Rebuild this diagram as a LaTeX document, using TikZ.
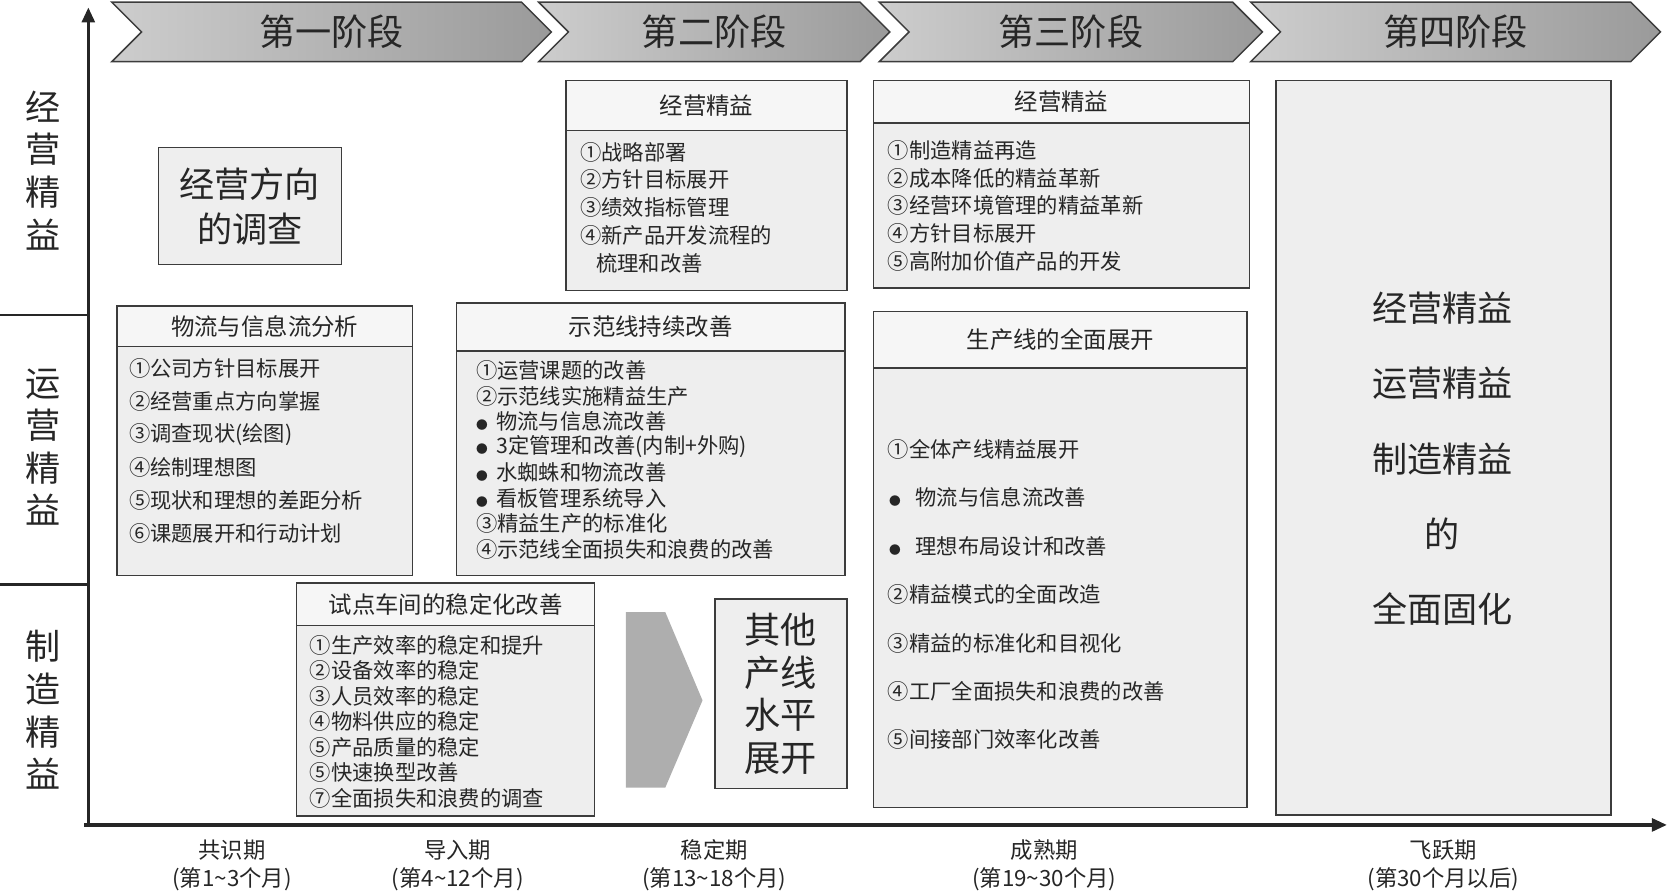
\documentclass[tikz,border=0pt]{standalone}
\usepackage{fontspec}
\setmainfont{Noto Sans CJK SC}
\usepackage{tikz}
\usetikzlibrary{arrows.meta, positioning, calc}
\definecolor{InkDark}{HTML}{262626}
\definecolor{LineDark}{HTML}{3C3C3C}
\definecolor{BoxBg}{HTML}{EEEEEE}
\definecolor{HeadBg}{HTML}{F6F6F6}
\definecolor{PhaseLight}{HTML}{CDCDCD}
\definecolor{PhaseDark}{HTML}{9A9A9A}
\definecolor{ArrowGray}{HTML}{AEAEAE}
\newcommand{\fsz}[2]{\fontsize{#1}{#2}\selectfont}
\newcommand{\bulletmark}{{\fsz{11}{11}●}}
\tikzset{
  >={Triangle[width=12pt,length=14pt]},
  % assi e separatori
  axis/.style={line width=3pt,InkDark},
  sepline/.style={line width=2.4pt,InkDark},
  sidelabel/.style={align=center,font=\fsz{33}{40},text=InkDark},
  % fasi
  phase/.style={draw=LineDark,line width=1.4pt,left color=PhaseLight,right color=PhaseDark},
  phase text/.style={font=\fsz{34}{34},text=InkDark},
  % riquadri
  bodybox/.style={draw=LineDark,line width=1.4pt,fill=BoxBg,anchor=north west,inner sep=0},
  headbox/.style={bodybox,fill=HeadBg,font=\fsz{22}{22},text=InkDark},
  item/.style={anchor=west,inner sep=0,font=\fsz{20}{20},text=InkDark},
  bigtext/.style={align=center,font=\fsz{33}{42},text=InkDark},
  period/.style={align=center,font=\fsz{21}{26},text=InkDark}
}

\begin{document}
\begin{tikzpicture}[x=1pt,y=-1pt]
  \useasboundingbox (0,0) rectangle (1568,838);
  % assi
  \coordinate (origin) at (83,775);
  \coordinate (ytop) at (83,7);
  \coordinate (xleft) at (79,775);
  \coordinate (xright) at (1566,775);
  \draw[axis,->] (origin) -- (ytop);
  \draw[axis,->] (xleft) -- (xright);
  \coordinate (sepA) at (0,296); \coordinate (sepB) at (83,296);
  \coordinate (sepC) at (0,549); \coordinate (sepD) at (83,549);
  \draw[sepline] (sepA) -- (sepB);
  \draw[sepline] (sepC) -- (sepD);
  \node[sidelabel] (side1) at (40,160) {经\\营\\精\\益};
  \node[sidelabel] (side2) at (40,420) {运\\营\\精\\益};
  \node[sidelabel] (side3) at (40,667) {制\\造\\精\\益};
  % fasi
  \foreach \l/\r/\t [count=\i] in {105/518/第一阶段, 506/836/第二阶段, 826/1186/第三阶段, 1175/1560/第四阶段} {
    \draw[phase] (\l,2) -- (\r-28,2) -- (\r,30) -- (\r-28,58) -- (\l,58) -- (\l+28,30) -- cycle;
    \node[phase text] (phase\i) at ({(\l+\r)/2},30) {\t};
  }
  % prima colonna
  \node[bodybox,bigtext,minimum width=172,minimum height=110] (survey) at (148,138) {经营方向\\的调查};
  \node[bodybox,minimum width=278,minimum height=253] (flow) at (109,287) {};
  \node[headbox,minimum width=278,minimum height=38] (flowhead) at (flow.north west) {物流与信息流分析};
  \foreach \t [count=\i] in {①公司方针目标展开, ②经营重点方向掌握, ③调查现状(绘图), ④绘制理想图, ⑤现状和理想的差距分析, ⑥课题展开和行动计划}
    \node[item] (flow-\i) at (121,{346+31*(\i-1)}) {\t};
  \node[bodybox,minimum width=280,minimum height=219] (pilot) at (278,547) {};
  \node[headbox,minimum width=280,minimum height=40] (pilothead) at (pilot.north west) {试点车间的稳定化改善};
  \foreach \t [count=\i] in {①生产效率的稳定和提升, ②设备效率的稳定, ③人员效率的稳定, ④物料供应的稳定, ⑤产品质量的稳定, ⑤快速换型改善, ⑦全面损失和浪费的调查}
    \node[item] (pilot-\i) at (291,{606+24*(\i-1)}) {\t};
  % seconda colonna
  \node[bodybox,minimum width=264,minimum height=197] (mgmt2) at (531,75) {};
  \node[headbox,minimum width=264,minimum height=47] (mgmt2head) at (mgmt2.north west) {经营精益};
  \foreach \t [count=\i] in {①战略部署, ②方针目标展开, ③绩效指标管理, ④新产品开发流程的, \hspace*{15pt}梳理和改善}
    \node[item] (mgmt2-\i) at (545,{143+26*(\i-1)}) {\t};
  \node[bodybox,minimum width=365,minimum height=256] (model) at (428,284) {};
  \node[headbox,minimum width=365,minimum height=45] (modelhead) at (model.north west) {示范线持续改善};
  \foreach \t [count=\i] in {①运营课题的改善, ②示范线实施精益生产, \bulletmark\hspace{8pt}物流与信息流改善, \bulletmark\hspace{8pt}3定管理和改善(内制+外购), \bulletmark\hspace{8pt}水蜘蛛和物流改善, \bulletmark\hspace{8pt}看板管理系统导入, ③精益生产的标准化, ④示范线全面损失和浪费的改善}
    \node[item] (model-\i) at (447,{348+24*(\i-1)}) {\t};
  \path[fill=ArrowGray] (588,575) -- (625,575) -- (660,658) -- (625,740) -- (588,740) -- cycle;
  \node[bodybox,minimum width=124,minimum height=178,align=center,font=\fsz{34}{40},text=InkDark] (others) at (671,562) {其他\\产线\\水平\\展开};
  % terza colonna
  \node[bodybox,minimum width=353,minimum height=195] (mgmt3) at (820,75) {};
  \node[headbox,minimum width=353,minimum height=40] (mgmt3head) at (mgmt3.north west) {经营精益};
  \foreach \t [count=\i] in {①制造精益再造, ②成本降低的精益革新, ③经营环境管理的精益革新, ④方针目标展开, ⑤高附加价值产品的开发}
    \node[item] (mgmt3-\i) at (834,{141+26.2*(\i-1)}) {\t};
  \node[bodybox,minimum width=351,minimum height=466] (spread) at (820,292) {};
  \node[headbox,minimum width=351,minimum height=53] (spreadhead) at (spread.north west) {生产线的全面展开};
  \foreach \t [count=\i] in {①全体产线精益展开, \hspace*{1pt}\bulletmark\hspace{14pt}物流与信息流改善, \hspace*{1pt}\bulletmark\hspace{14pt}理想布局设计和改善, ②精益模式的全面改造, ③精益的标准化和目视化, ④工厂全面损失和浪费的改善, ⑤间接部门效率化改善}
    \node[item] (spread-\i) at (834,{422+45.5*(\i-1)}) {\t};
  % quarta colonna
  \node[bodybox,minimum width=315,minimum height=690] (final) at (1198,75) {};
  \node[align=center,font=\fsz{33}{70.7},text=InkDark] (finaltext) at (1355,431) {经营精益\\运营精益\\制造精益\\的\\全面固化};
  % periodi
  \foreach \x/\a/\b [count=\i] in {218/共识期/(第1\textasciitilde3个月), 430/导入期/(第4\textasciitilde12个月), 671/稳定期/(第13\textasciitilde18个月), 981/成熟期/(第19\textasciitilde30个月), 1356/飞跃期/(第30个月以后)}
    \node[period] (period\i) at (\x,813) {\a\\\b};
\end{tikzpicture}
\end{document}
